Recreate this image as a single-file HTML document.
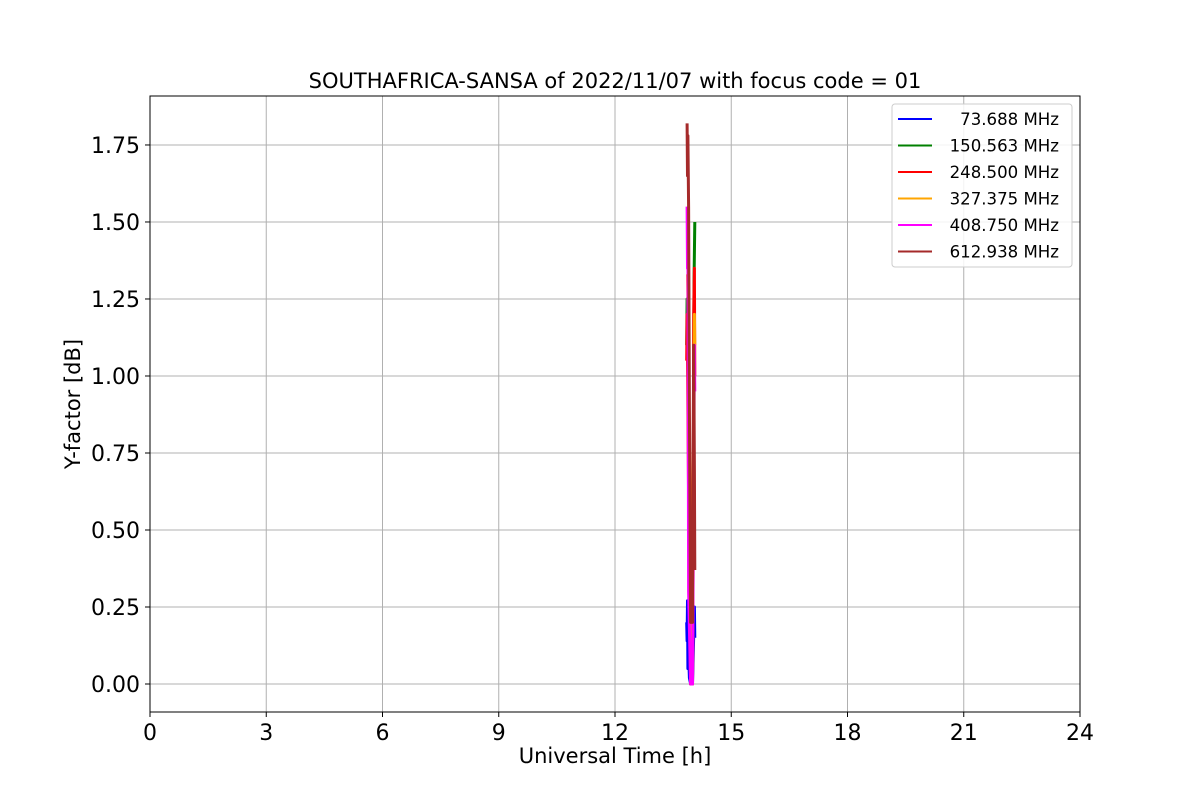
<!DOCTYPE html>
<html><head><meta charset="utf-8"><style>
body{margin:0;background:#fff}
svg text{font-family:"DejaVu Sans","Liberation Sans",sans-serif}
</style></head><body>
<svg id="c" width="1200" height="800" xmlns="http://www.w3.org/2000/svg"></svg>
<script>
const xTicks=[0,3,6,9,12,15,18,21,24];
const yTicks=[0,0.25,0.5,0.75,1,1.25,1.5,1.75];
const yTickLabels=["0.00","0.25","0.50","0.75","1.00","1.25","1.50","1.75"];
const seriesNames=["73.688 MHz","150.563 MHz","248.500 MHz","327.375 MHz","408.750 MHz","612.938 MHz"];
const seriesColors=["blue","green","red","orange","magenta","brown"];
const t73=[13.85,13.86,13.87,13.88,13.9,13.92,13.95,14.0,14.05,14.06];
const v73=[0.2,0.14,0.27,0.05,0.1,0.02,0.0,0.0,0.25,0.15];
const t150=[13.85,13.86,13.87,13.9,13.95,14.0,14.04,14.06];
const v150=[1.1,1.25,1.15,0.8,0.0,0.0,1.3,1.5];
const t248=[13.85,13.86,13.87,13.9,13.95,14.0,14.03,14.05,14.06];
const v248=[1.05,1.2,1.08,0.6,0.0,0.0,1.2,1.35,1.0];
const t327=[13.87,13.88,13.9,14.0,14.05,14.06];
const v327=[1.33,1.25,1.0,0.0,1.2,1.1];
const t408=[13.86,13.87,13.88,13.9,13.95,14.0,14.05,14.06];
const v408=[1.55,1.35,1.45,0.3,0.0,0.0,1.1,0.95];
const t612=[13.86,13.87,13.88,13.9,13.92,13.95,14.0,14.03,14.05,14.06];
const v612=[1.82,1.65,1.78,1.55,0.9,0.2,0.2,1.1,0.7,0.37];
const allT=[t73,t150,t248,t327,t408,t612], allV=[v73,v150,v248,v327,v408,v612];

const L=150,R=1080,T=96,B=712;
const yMin=-0.0909,yMax=1.909;
const X=t=>L+(t-0)/(24-0)*(R-L);
const Y=v=>B-(v-yMin)/(yMax-yMin)*(B-T);
const svg=document.getElementById('c');
const NS="http://www.w3.org/2000/svg";
function mk(tag,attrs,txt){const e=document.createElementNS(NS,tag);for(const k in attrs)e.setAttribute(k,attrs[k]);if(txt!==undefined)e.textContent=txt;svg.appendChild(e);return e;}

xTicks.forEach((t,i)=>{
 const g=mk('line',{x1:X(t),x2:X(t),y1:T,y2:B,stroke:'#b0b0b0','stroke-width':1});
 
 
 const tk=mk('line',{x1:X(t),x2:X(t),y1:B,y2:B+5,stroke:'#000'});
 
 
 const lb=mk('text',{x:X(t),y:B+28,'font-size':22,'text-anchor':'middle'},String(t));
 
 
});
yTicks.forEach((v,i)=>{
 const g=mk('line',{x1:L,x2:R,y1:Y(v),y2:Y(v),stroke:'#b0b0b0','stroke-width':1});
 
 
 const tk=mk('line',{x1:L-5,x2:L,y1:Y(v),y2:Y(v),stroke:'#000'});
 
 
 const lb=mk('text',{x:L-10,y:Y(v)+8,'font-size':22,'text-anchor':'end'},yTickLabels[i]);
 
 
});
allT.forEach((ts,s)=>{
 const pts=ts.map((t,i)=>X(t).toFixed(1)+','+Y(allV[s][i]).toFixed(1)).join(' ');
 const p=mk('polyline',{points:pts,fill:'none',stroke:seriesColors[s],'stroke-width':3,'stroke-linejoin':'round'});
 
 
});
const fr=mk('rect',{x:L,y:T,width:R-L,height:B-T,fill:'none',stroke:'#000','stroke-width':1});


const ti=mk('text',{x:(L+R)/2,y:88,'font-size':21,'text-anchor':'middle'},'SOUTHAFRICA-SANSA of 2022/11/07 with focus code = 01');


const xt=mk('text',{x:(L+R)/2,y:763,'font-size':21,'text-anchor':'middle'},'Universal Time [h]');


const yt=mk('text',{x:80,y:404,'font-size':21,'text-anchor':'middle',transform:'rotate(-90 80 404)'},'Y-factor [dB]');


const lg=mk('rect',{x:892,y:104,width:180,height:163,rx:3,fill:'#fff','fill-opacity':0.85,stroke:'#ccc'});


seriesNames.forEach((n,i)=>{
 const y=119+i*26.5;
 const ln=mk('line',{x1:898,x2:932,y1:y,y2:y,stroke:seriesColors[i],'stroke-width':2});
 
 
 const tx=mk('text',{x:1059,y:y+6,'font-size':16.6,'text-anchor':'end'},n);
 
 
});
</script>
</body></html>
